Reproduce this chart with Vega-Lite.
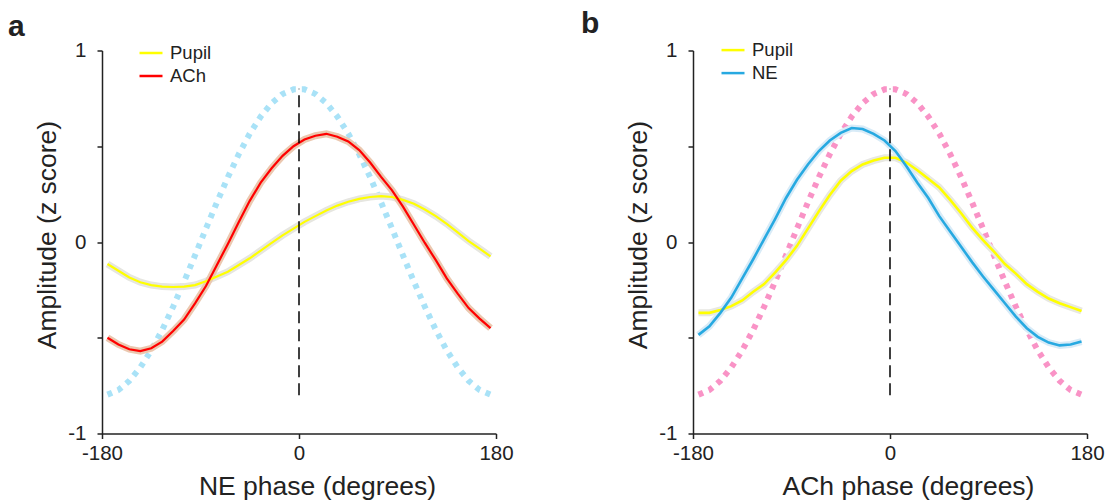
{
  "$schema": "https://vega.github.io/schema/vega-lite/v6.json",
  "padding": {"left": 8, "top": 8.5, "right": 0, "bottom": 0},
  "config": {
    "view": {"stroke": null},
    "font": "Liberation Sans",
    "axis": {
      "grid": false,
      "labelFlush": false,
      "domainColor": "#222222",
      "domainWidth": 1.5,
      "tickColor": "#222222",
      "tickWidth": 1.5,
      "tickSize": 5,
      "labelFont": "Liberation Sans",
      "labelFontSize": 20.5,
      "labelColor": "#222222",
      "titleFont": "Liberation Sans",
      "titleFontSize": 26.5,
      "titleFontWeight": "normal",
      "titleColor": "#222222"
    },
    "legend": {
      "labelFont": "Liberation Sans",
      "labelFontSize": 18.5,
      "labelColor": "#222222"
    }
  },
  "spacing": 67,
  "resolve": {"scale": {"color": "independent"}, "legend": {"color": "independent"}},
  "datasets": {
    "a_solid": [
      {"series": "Pupil", "phase": -175, "amp": -0.115},
      {"series": "Pupil", "phase": -165, "amp": -0.15},
      {"series": "Pupil", "phase": -155, "amp": -0.185},
      {"series": "Pupil", "phase": -145, "amp": -0.21},
      {"series": "Pupil", "phase": -135, "amp": -0.225},
      {"series": "Pupil", "phase": -125, "amp": -0.233},
      {"series": "Pupil", "phase": -115, "amp": -0.235},
      {"series": "Pupil", "phase": -105, "amp": -0.233},
      {"series": "Pupil", "phase": -95, "amp": -0.225},
      {"series": "Pupil", "phase": -85, "amp": -0.205},
      {"series": "Pupil", "phase": -75, "amp": -0.18},
      {"series": "Pupil", "phase": -65, "amp": -0.155},
      {"series": "Pupil", "phase": -55, "amp": -0.12},
      {"series": "Pupil", "phase": -45, "amp": -0.085},
      {"series": "Pupil", "phase": -35, "amp": -0.045},
      {"series": "Pupil", "phase": -25, "amp": -0.005},
      {"series": "Pupil", "phase": -15, "amp": 0.035},
      {"series": "Pupil", "phase": -5, "amp": 0.07},
      {"series": "Pupil", "phase": 5, "amp": 0.105},
      {"series": "Pupil", "phase": 15, "amp": 0.135},
      {"series": "Pupil", "phase": 25, "amp": 0.165},
      {"series": "Pupil", "phase": 35, "amp": 0.19},
      {"series": "Pupil", "phase": 45, "amp": 0.21},
      {"series": "Pupil", "phase": 55, "amp": 0.225},
      {"series": "Pupil", "phase": 65, "amp": 0.235},
      {"series": "Pupil", "phase": 75, "amp": 0.24},
      {"series": "Pupil", "phase": 85, "amp": 0.235},
      {"series": "Pupil", "phase": 95, "amp": 0.22},
      {"series": "Pupil", "phase": 105, "amp": 0.2},
      {"series": "Pupil", "phase": 115, "amp": 0.17},
      {"series": "Pupil", "phase": 125, "amp": 0.135},
      {"series": "Pupil", "phase": 135, "amp": 0.095},
      {"series": "Pupil", "phase": 145, "amp": 0.05},
      {"series": "Pupil", "phase": 155, "amp": 0.005},
      {"series": "Pupil", "phase": 165, "amp": -0.035},
      {"series": "Pupil", "phase": 175, "amp": -0.075},
      {"series": "ACh", "phase": -175, "amp": -0.5},
      {"series": "ACh", "phase": -165, "amp": -0.535},
      {"series": "ACh", "phase": -155, "amp": -0.56},
      {"series": "ACh", "phase": -145, "amp": -0.57},
      {"series": "ACh", "phase": -135, "amp": -0.555},
      {"series": "ACh", "phase": -125, "amp": -0.52},
      {"series": "ACh", "phase": -115, "amp": -0.465},
      {"series": "ACh", "phase": -105, "amp": -0.405},
      {"series": "ACh", "phase": -95, "amp": -0.32},
      {"series": "ACh", "phase": -85, "amp": -0.23},
      {"series": "ACh", "phase": -75, "amp": -0.12},
      {"series": "ACh", "phase": -65, "amp": -0.01},
      {"series": "ACh", "phase": -55, "amp": 0.105},
      {"series": "ACh", "phase": -45, "amp": 0.215},
      {"series": "ACh", "phase": -35, "amp": 0.31},
      {"series": "ACh", "phase": -25, "amp": 0.385},
      {"series": "ACh", "phase": -15, "amp": 0.45},
      {"series": "ACh", "phase": -5, "amp": 0.5},
      {"series": "ACh", "phase": 5, "amp": 0.535},
      {"series": "ACh", "phase": 15, "amp": 0.555},
      {"series": "ACh", "phase": 25, "amp": 0.565},
      {"series": "ACh", "phase": 35, "amp": 0.55},
      {"series": "ACh", "phase": 45, "amp": 0.525},
      {"series": "ACh", "phase": 55, "amp": 0.48},
      {"series": "ACh", "phase": 65, "amp": 0.415},
      {"series": "ACh", "phase": 75, "amp": 0.34},
      {"series": "ACh", "phase": 85, "amp": 0.27},
      {"series": "ACh", "phase": 95, "amp": 0.185},
      {"series": "ACh", "phase": 105, "amp": 0.09},
      {"series": "ACh", "phase": 115, "amp": -0.005},
      {"series": "ACh", "phase": 125, "amp": -0.095},
      {"series": "ACh", "phase": 135, "amp": -0.19},
      {"series": "ACh", "phase": 145, "amp": -0.27},
      {"series": "ACh", "phase": 155, "amp": -0.345},
      {"series": "ACh", "phase": 165, "amp": -0.4},
      {"series": "ACh", "phase": 175, "amp": -0.45}
    ],
    "ref_cos": [
      {"phase": -175, "amp": -0.797},
      {"phase": -165, "amp": -0.773},
      {"phase": -155, "amp": -0.725},
      {"phase": -145, "amp": -0.655},
      {"phase": -135, "amp": -0.566},
      {"phase": -125, "amp": -0.459},
      {"phase": -115, "amp": -0.338},
      {"phase": -105, "amp": -0.207},
      {"phase": -95, "amp": -0.07},
      {"phase": -85, "amp": 0.07},
      {"phase": -75, "amp": 0.207},
      {"phase": -65, "amp": 0.338},
      {"phase": -55, "amp": 0.459},
      {"phase": -45, "amp": 0.566},
      {"phase": -35, "amp": 0.655},
      {"phase": -25, "amp": 0.725},
      {"phase": -15, "amp": 0.773},
      {"phase": -5, "amp": 0.797},
      {"phase": 5, "amp": 0.797},
      {"phase": 15, "amp": 0.773},
      {"phase": 25, "amp": 0.725},
      {"phase": 35, "amp": 0.655},
      {"phase": 45, "amp": 0.566},
      {"phase": 55, "amp": 0.459},
      {"phase": 65, "amp": 0.338},
      {"phase": 75, "amp": 0.207},
      {"phase": 85, "amp": 0.07},
      {"phase": 95, "amp": -0.07},
      {"phase": 105, "amp": -0.207},
      {"phase": 115, "amp": -0.338},
      {"phase": 125, "amp": -0.459},
      {"phase": 135, "amp": -0.566},
      {"phase": 145, "amp": -0.655},
      {"phase": 155, "amp": -0.725},
      {"phase": 165, "amp": -0.773},
      {"phase": 175, "amp": -0.797}
    ],
    "b_solid": [
      {"series": "Pupil", "phase": -175, "amp": -0.37},
      {"series": "Pupil", "phase": -165, "amp": -0.37},
      {"series": "Pupil", "phase": -155, "amp": -0.355},
      {"series": "Pupil", "phase": -145, "amp": -0.335},
      {"series": "Pupil", "phase": -135, "amp": -0.305},
      {"series": "Pupil", "phase": -125, "amp": -0.26},
      {"series": "Pupil", "phase": -115, "amp": -0.22},
      {"series": "Pupil", "phase": -105, "amp": -0.16},
      {"series": "Pupil", "phase": -95, "amp": -0.095},
      {"series": "Pupil", "phase": -85, "amp": -0.02},
      {"series": "Pupil", "phase": -75, "amp": 0.07},
      {"series": "Pupil", "phase": -65, "amp": 0.16},
      {"series": "Pupil", "phase": -55, "amp": 0.245},
      {"series": "Pupil", "phase": -45, "amp": 0.32},
      {"series": "Pupil", "phase": -35, "amp": 0.37},
      {"series": "Pupil", "phase": -25, "amp": 0.405},
      {"series": "Pupil", "phase": -15, "amp": 0.425},
      {"series": "Pupil", "phase": -5, "amp": 0.44},
      {"series": "Pupil", "phase": 5, "amp": 0.44},
      {"series": "Pupil", "phase": 15, "amp": 0.415},
      {"series": "Pupil", "phase": 25, "amp": 0.375},
      {"series": "Pupil", "phase": 35, "amp": 0.33},
      {"series": "Pupil", "phase": 45, "amp": 0.285},
      {"series": "Pupil", "phase": 55, "amp": 0.22},
      {"series": "Pupil", "phase": 65, "amp": 0.15},
      {"series": "Pupil", "phase": 75, "amp": 0.075},
      {"series": "Pupil", "phase": 85, "amp": 0.01},
      {"series": "Pupil", "phase": 95, "amp": -0.05},
      {"series": "Pupil", "phase": 105, "amp": -0.115},
      {"series": "Pupil", "phase": 115, "amp": -0.165},
      {"series": "Pupil", "phase": 125, "amp": -0.22},
      {"series": "Pupil", "phase": 135, "amp": -0.26},
      {"series": "Pupil", "phase": 145, "amp": -0.295},
      {"series": "Pupil", "phase": 155, "amp": -0.32},
      {"series": "Pupil", "phase": 165, "amp": -0.34},
      {"series": "Pupil", "phase": 175, "amp": -0.36},
      {"series": "NE", "phase": -175, "amp": -0.485},
      {"series": "NE", "phase": -165, "amp": -0.44},
      {"series": "NE", "phase": -155, "amp": -0.37},
      {"series": "NE", "phase": -145, "amp": -0.29},
      {"series": "NE", "phase": -135, "amp": -0.19},
      {"series": "NE", "phase": -125, "amp": -0.09},
      {"series": "NE", "phase": -115, "amp": 0.015},
      {"series": "NE", "phase": -105, "amp": 0.12},
      {"series": "NE", "phase": -95, "amp": 0.23},
      {"series": "NE", "phase": -85, "amp": 0.325},
      {"series": "NE", "phase": -75, "amp": 0.405},
      {"series": "NE", "phase": -65, "amp": 0.475},
      {"series": "NE", "phase": -55, "amp": 0.53},
      {"series": "NE", "phase": -45, "amp": 0.57},
      {"series": "NE", "phase": -35, "amp": 0.595},
      {"series": "NE", "phase": -25, "amp": 0.59},
      {"series": "NE", "phase": -15, "amp": 0.565},
      {"series": "NE", "phase": -5, "amp": 0.53},
      {"series": "NE", "phase": 5, "amp": 0.475},
      {"series": "NE", "phase": 15, "amp": 0.395},
      {"series": "NE", "phase": 25, "amp": 0.31},
      {"series": "NE", "phase": 35, "amp": 0.23},
      {"series": "NE", "phase": 45, "amp": 0.135},
      {"series": "NE", "phase": 55, "amp": 0.055},
      {"series": "NE", "phase": 65, "amp": -0.025},
      {"series": "NE", "phase": 75, "amp": -0.105},
      {"series": "NE", "phase": 85, "amp": -0.18},
      {"series": "NE", "phase": 95, "amp": -0.25},
      {"series": "NE", "phase": 105, "amp": -0.32},
      {"series": "NE", "phase": 115, "amp": -0.39},
      {"series": "NE", "phase": 125, "amp": -0.45},
      {"series": "NE", "phase": 135, "amp": -0.495},
      {"series": "NE", "phase": 145, "amp": -0.525},
      {"series": "NE", "phase": 155, "amp": -0.54},
      {"series": "NE", "phase": 165, "amp": -0.535},
      {"series": "NE", "phase": 175, "amp": -0.52}
    ],
    "zero_line": [{"phase": 0, "lo": -0.8, "hi": 0.8}]
  },
  "hconcat": [
    {
      "width": 394,
      "height": 383,
      "title": {"text": "a", "anchor": "start", "frame": "group", "dx": -94, "fontSize": 30, "fontWeight": "bold", "color": "#222222", "font": "Liberation Sans", "offset": -2},
      "encoding": {
        "x": {"field": "phase", "type": "quantitative", "scale": {"domain": [-180, 180], "nice": false},
          "axis": {"title": "NE phase (degrees)", "values": [-180, 0, 180], "labelExpr": "datum.value == -180 ? '-180' : datum.value == 180 ? '180' : '0'", "labelPadding": 5, "titleX": 215, "titleY": 61, "titleBaseline": "alphabetic", "titleAnchor": "middle"}},
        "y": {"field": "amp", "type": "quantitative", "scale": {"domain": [-1, 1], "nice": false},
          "axis": {"title": "Amplitude (z score)", "values": [-1, -0.5, 0, 0.5, 1], "labelExpr": "datum.value == 1 ? '1' : datum.value == 0 ? '0' : datum.value == -1 ? '-1' : ''", "labelPadding": 11, "titlePadding": 6, "titleY": 184}}
      },
      "layer": [
        {"data": {"name": "ref_cos"}, "mark": {"type": "line", "color": "#a9e2f7", "strokeWidth": 6, "strokeDash": [5, 6]}},
        {"data": {"name": "a_solid"}, "transform": [{"filter": {"field": "series", "equal": "Pupil"}}], "mark": {"type": "line", "color": "#e6e6e0", "strokeWidth": 7}},
        {"data": {"name": "a_solid"}, "transform": [{"filter": {"field": "series", "equal": "ACh"}}], "mark": {"type": "line", "color": "#ebc8b0", "strokeWidth": 7}},
        {"data": {"name": "a_solid"}, "mark": {"type": "line", "strokeWidth": 2.2},
          "encoding": {"color": {"field": "series", "type": "nominal", "sort": null, "scale": {"domain": ["Pupil", "ACh"], "range": ["#ffff00", "#ff0000"]},
            "legend": {"title": null, "orient": "none", "legendX": 36, "legendY": -10.5, "symbolType": "stroke", "symbolSize": 529, "symbolStrokeWidth": 2.5, "labelOffset": 6, "rowPadding": -2, "padding": 0}}}},
        {"data": {"name": "zero_line"}, "mark": {"type": "rule", "color": "#000000", "strokeWidth": 1.5, "strokeDash": [12, 6]},
          "encoding": {"x": {"field": "phase", "type": "quantitative"}, "y": {"field": "lo", "type": "quantitative"}, "y2": {"field": "hi"}}}
      ]
    },
    {
      "width": 394,
      "height": 383,
      "title": {"text": "b", "anchor": "start", "frame": "group", "dx": -112, "fontSize": 30, "fontWeight": "bold", "color": "#222222", "font": "Liberation Sans", "offset": -2},
      "encoding": {
        "x": {"field": "phase", "type": "quantitative", "scale": {"domain": [-180, 180], "nice": false},
          "axis": {"title": "ACh phase (degrees)", "values": [-180, 0, 180], "labelExpr": "datum.value == -180 ? '-180' : datum.value == 180 ? '180' : '0'", "labelPadding": 5, "titleX": 215, "titleY": 61, "titleBaseline": "alphabetic", "titleAnchor": "middle"}},
        "y": {"field": "amp", "type": "quantitative", "scale": {"domain": [-1, 1], "nice": false},
          "axis": {"title": "Amplitude (z score)", "values": [-1, -0.5, 0, 0.5, 1], "labelExpr": "datum.value == 1 ? '1' : datum.value == 0 ? '0' : datum.value == -1 ? '-1' : ''", "labelPadding": 11, "titlePadding": 6, "titleY": 184}}
      },
      "layer": [
        {"data": {"name": "ref_cos"}, "mark": {"type": "line", "color": "#f993c6", "strokeWidth": 6, "strokeDash": [5, 6]}},
        {"data": {"name": "b_solid"}, "transform": [{"filter": {"field": "series", "equal": "Pupil"}}], "mark": {"type": "line", "color": "#e8e8e2", "strokeWidth": 7}},
        {"data": {"name": "b_solid"}, "transform": [{"filter": {"field": "series", "equal": "NE"}}], "mark": {"type": "line", "color": "#d8ebf7", "strokeWidth": 7}},
        {"data": {"name": "b_solid"}, "mark": {"type": "line", "strokeWidth": 2.6},
          "encoding": {"color": {"field": "series", "type": "nominal", "sort": null, "scale": {"domain": ["Pupil", "NE"], "range": ["#ffff00", "#27a9e1"]},
            "legend": {"title": null, "orient": "none", "legendX": 27, "legendY": -13.4, "symbolType": "stroke", "symbolSize": 529, "symbolStrokeWidth": 2.5, "labelOffset": 6, "rowPadding": -2, "padding": 0}}}},
        {"data": {"name": "zero_line"}, "mark": {"type": "rule", "color": "#000000", "strokeWidth": 1.5, "strokeDash": [12, 6]},
          "encoding": {"x": {"field": "phase", "type": "quantitative"}, "y": {"field": "lo", "type": "quantitative"}, "y2": {"field": "hi"}}}
      ]
    }
  ]
}
